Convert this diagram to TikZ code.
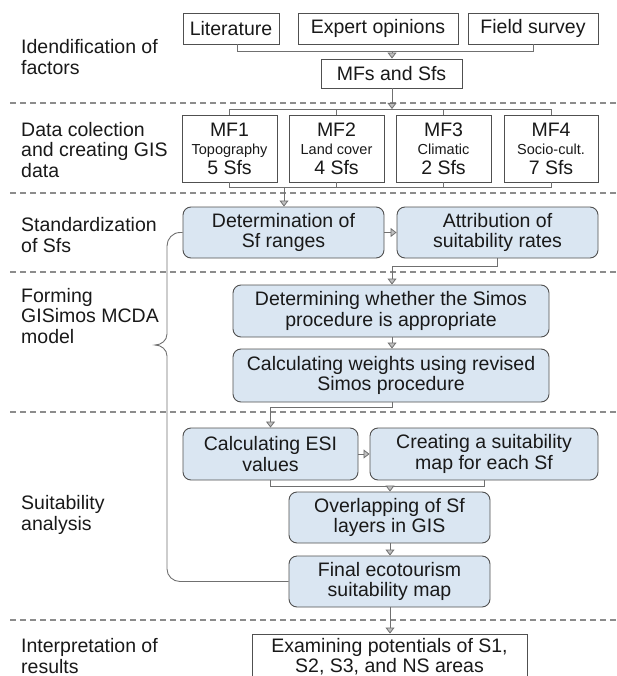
\documentclass[tikz,border=0pt]{standalone}
\usepackage{fontspec}
\setmainfont{Liberation Sans}
\usetikzlibrary{arrows.meta}
\definecolor{boxblue}{HTML}{DAE6F2}
\definecolor{linegray}{HTML}{707070}
\definecolor{bordergray}{HTML}{505050}
\definecolor{dashgray}{HTML}{8C8C8C}
\newcommand{\mainsz}{\fontsize{19.5}{20.5}\selectfont}
\newcommand{\smallsz}{\fontsize{14.5}{16}\selectfont}
\newcommand{\mftext}[3]{\begin{tabular}{@{}c@{}}\rule{0pt}{20pt}#1\\[-2.5pt]\smallsz #2\\[0pt]#3\end{tabular}}
\begin{document}
\begin{tikzpicture}[x=1pt,y=-1pt,
  every node/.style={font=\mainsz, text=black!90, inner sep=0pt},
  rectbox/.style={draw=bordergray, line width=0.9pt, fill=white, align=center},
  roundbox/.style={draw=bordergray, line width=0.9pt, fill=boxblue, rounded corners=8pt, align=center},
  lbl/.style={anchor=west, align=left},
  conn/.style={draw=linegray, line width=0.9pt},
  arr/.style={conn, -{Triangle[length=6pt,width=9pt,fill=black!25,line width=0.8pt]}},
  sepline/.style={draw=dashgray, line width=1.1pt, dash pattern=on 6pt off 4pt}
]
\useasboundingbox (0,0) rectangle (617,676);

% separators
\foreach \yy in {103,193,272,412,620} \draw[sepline] (10,\yy) -- (617,\yy);

% left labels
\node[lbl] (l1) at (21,57) {Idendification of\\factors};
\node[lbl] (l2) at (21,150) {Data colection\\and creating GIS\\data};
\node[lbl] (l3) at (21,235) {Standardization\\of Sfs};
\node[lbl] (l4) at (21,316) {Forming\\GISimos MCDA\\model};
\node[lbl] (l5) at (21,515) {Suitability\\analysis};
\node[lbl] (l6) at (21,656) {Interpretation of\\results};

% row 1
\node[rectbox, minimum width=96pt, minimum height=31pt] (lit) at (231,28.5) {Literature};
\node[rectbox, minimum width=160pt, minimum height=31pt] (exp) at (378,28.5) {Expert opinions};
\node[rectbox, minimum width=130pt, minimum height=31pt] (fld) at (533,28.5) {Field survey};
\node[rectbox, minimum width=141pt, minimum height=29pt] (mfs) at (391.5,73.5) {MFs and Sfs};

% MF boxes
\node[rectbox, minimum width=95pt, minimum height=67pt] (mf1) at (229.5,148.5) {\mftext{MF1}{Topography}{5 Sfs}};
\node[rectbox, minimum width=95pt, minimum height=67pt] (mf2) at (336.5,148.5) {\mftext{MF2}{Land cover}{4 Sfs}};
\node[rectbox, minimum width=95pt, minimum height=67pt] (mf3) at (443.5,148.5) {\mftext{MF3}{Climatic}{2 Sfs}};
\node[rectbox, minimum width=94pt, minimum height=67pt] (mf4) at (551,148.5) {\mftext{MF4}{Socio-cult.}{7 Sfs}};

% rounded boxes
\node[roundbox, minimum width=201pt, minimum height=51pt] (det) at (283.5,232.5) {Determination of\\Sf ranges};
\node[roundbox, minimum width=201pt, minimum height=51pt] (att) at (497.5,232.5) {Attribution of\\suitability rates};
\node[roundbox, minimum width=316pt, minimum height=52pt] (dwt) at (391,311) {Determining whether the Simos\\procedure is appropriate};
\node[roundbox, minimum width=316pt, minimum height=53pt] (cw) at (391,375.5) {Calculating weights using revised\\Simos procedure};
\node[roundbox, minimum width=175pt, minimum height=52pt] (esi) at (270.5,454) {Calculating ESI\\values};
\node[roundbox, minimum width=228pt, minimum height=52pt] (cre) at (484,454) {Creating a suitability\\map for each Sf};
\node[roundbox, minimum width=201pt, minimum height=51pt] (ov) at (389.5,517.5) {Overlapping of Sf\\layers in GIS};
\node[roundbox, minimum width=201pt, minimum height=51pt] (fin) at (389.5,581.5) {Final ecotourism\\suitability map};
\node[rectbox, minimum width=275pt, minimum height=45pt] (ex) at (389.5,656.5) {Examining potentials of S1,\\S2, S3, and NS areas};

% connectors row 1
\coordinate (b1l) at (237,51);
\coordinate (b1r) at (533,51);
\coordinate (b1m) at (392,51);
\draw[conn] (lit.south -| b1l) |- (b1r) -- (fld.south -| b1r);
\draw[arr] (b1m) -- (mfs.north -| b1m);

% MF brackets
\coordinate (b2) at (392,109);
\draw[arr] (mfs.south -| b2) -- (b2);
\draw[conn] (mf1.north) |- (mf4.north |- b2) -- (mf4.north);
\draw[conn] (mf2.north) -- (mf2.north |- b2);
\draw[conn] (mf3.north) -- (mf3.north |- b2);
\coordinate (b3) at (284,187);
\draw[conn] (mf1.south) |- (mf4.south |- b3) -- (mf4.south);
\draw[conn] (mf2.south) -- (mf2.south |- b3);
\draw[conn] (mf3.south) -- (mf3.south |- b3);
\draw[arr] (b3) -- (det.north -| b3);

% standardization
\draw[arr] (det.east) -- (att.west);
\coordinate (b4) at (392,266);
\draw[arr] (att.south) |- (b4) -- (dwt.north -| b4);
\draw[arr] (dwt.south -| b4) -- (cw.north -| b4);
\coordinate (b5) at (392,407);
\draw[arr] (cw.south -| b5) -- (b5) -| (esi.north);

% suitability
\draw[arr] (esi.east) -- (cre.west);
\coordinate (b6) at (390,486);
\draw[conn] (esi.south) |- (cre.south |- b6) -- (cre.south);
\draw[arr] (b6) -- (ov.north -| b6);
\draw[arr] (ov.south -| b6) -- (fin.north -| b6);
\draw[arr] (fin.south -| b6) -- (ex.north -| b6);

% brace
\draw[conn] (det.west) -- (180,232.5) to[out=180,in=90] (167,246) -- (167,334)
  to[out=270,in=0] (155,345) to[out=0,in=90] (167,356) -- (167,569)
  to[out=270,in=180] (180,581.5) -- (fin.west);
\end{tikzpicture}
\end{document}
